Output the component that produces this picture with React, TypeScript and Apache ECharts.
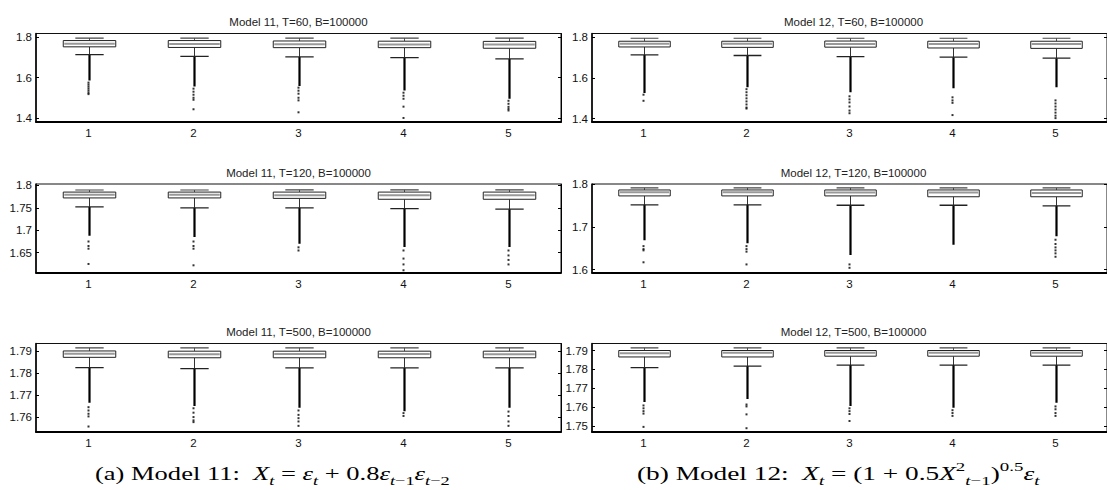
import { useEffect, useRef } from "react";
import * as echarts from "echarts";

// ---------- data ----------
const categories = ["1", "2", "3", "4", "5"];

const titles = [
  "Model 11, T=60, B=100000",
  "Model 11, T=120, B=100000",
  "Model 11, T=500, B=100000",
  "Model 12, T=60, B=100000",
  "Model 12, T=120, B=100000",
  "Model 12, T=500, B=100000",
];

// Model 11, T=60
const a1Hi = [1.795, 1.795, 1.795, 1.795, 1.795];
const a1Q3 = [1.783, 1.783, 1.781, 1.780, 1.779];
const a1Med = [1.767, 1.766, 1.765, 1.764, 1.763];
const a1Q1 = [1.752, 1.749, 1.748, 1.748, 1.745];
const a1Lo = [1.713, 1.705, 1.702, 1.699, 1.692];
const a1Dense = [1.585, 1.556, 1.558, 1.536, 1.495];
const a1Out = [
  [1.575, 1.565, 1.555, 1.545, 1.535, 1.525, 1.518],
  [1.545, 1.53, 1.515, 1.50, 1.49, 1.443],
  [1.55, 1.535, 1.52, 1.50, 1.487, 1.428],
  [1.525, 1.51, 1.495, 1.456, 1.40],
  [1.485, 1.47, 1.455, 1.445, 1.437],
];
const a1Ticks = [1.4, 1.6, 1.8];

// Model 11, T=120
const a2Hi = [1.7896, 1.7896, 1.790, 1.790, 1.790];
const a2Q3 = [1.785, 1.785, 1.785, 1.785, 1.785];
const a2Med = [1.779, 1.779, 1.778, 1.778, 1.778];
const a2Q1 = [1.772, 1.772, 1.771, 1.769, 1.769];
const a2Lo = [1.752, 1.750, 1.750, 1.748, 1.747];
const a2Dense = [1.688, 1.685, 1.670, 1.663, 1.663];
const a2Out = [
  [1.675, 1.665, 1.659, 1.625],
  [1.675, 1.665, 1.659, 1.622],
  [1.662, 1.655],
  [1.655, 1.637, 1.624, 1.611],
  [1.655, 1.644, 1.634, 1.624],
];
const a2Ticks = [1.65, 1.7, 1.75, 1.8];

// Model 11, T=500
const a3Hi = [1.7915, 1.7915, 1.7915, 1.7915, 1.7915];
const a3Q3 = [1.7901, 1.7900, 1.7900, 1.7900, 1.7900];
const a3Med = [1.7888, 1.7886, 1.7887, 1.7887, 1.7886];
const a3Q1 = [1.7872, 1.7870, 1.7870, 1.7870, 1.7870];
const a3Lo = [1.7825, 1.7821, 1.7824, 1.7824, 1.7824];
const a3Dense = [1.7665, 1.7650, 1.7642, 1.7627, 1.7642];
const a3Out = [
  [1.7645, 1.763, 1.7615, 1.7603, 1.7557],
  [1.764, 1.762, 1.760, 1.7585, 1.7577],
  [1.763, 1.761, 1.7595, 1.758, 1.756],
  [1.7618, 1.7605],
  [1.7625, 1.7605, 1.758, 1.756],
];
const a3Ticks = [1.76, 1.77, 1.78, 1.79];

// Model 12, T=60
const b1Hi = [1.795, 1.795, 1.795, 1.795, 1.795];
const b1Q3 = [1.780, 1.780, 1.781, 1.780, 1.780];
const b1Med = [1.768, 1.768, 1.767, 1.766, 1.766];
const b1Q1 = [1.752, 1.750, 1.751, 1.747, 1.745];
const b1Lo = [1.713, 1.710, 1.705, 1.702, 1.697];
const b1Dense = [1.526, 1.555, 1.530, 1.550, 1.555];
const b1Out = [
  [1.518, 1.488],
  [1.545, 1.53, 1.515, 1.50, 1.485, 1.47, 1.455, 1.45],
  [1.51, 1.495, 1.48, 1.46, 1.44, 1.427],
  [1.505, 1.49, 1.478, 1.418],
  [1.49, 1.475, 1.46, 1.445, 1.43, 1.415, 1.403],
];
const b1Ticks = [1.4, 1.6, 1.8];

// Model 12, T=120
const b2Hi = [1.792, 1.792, 1.792, 1.792, 1.792];
const b2Q3 = [1.787, 1.787, 1.787, 1.787, 1.787];
const b2Med = [1.7815, 1.7815, 1.781, 1.781, 1.780];
const b2Q1 = [1.773, 1.773, 1.773, 1.771, 1.771];
const b2Lo = [1.752, 1.752, 1.751, 1.751, 1.7497];
const b2Dense = [1.669, 1.662, 1.634, 1.658, 1.678];
const b2Out = [
  [1.655, 1.648, 1.645, 1.617],
  [1.655, 1.648, 1.642, 1.612],
  [1.612, 1.604],
  [],
  [1.670, 1.66, 1.652, 1.645, 1.638, 1.630],
];
const b2Ticks = [1.6, 1.7, 1.8];

// Model 12, T=500
const b3Hi = [1.7914, 1.7914, 1.7914, 1.7914, 1.7914];
const b3Q3 = [1.7900, 1.7900, 1.7900, 1.7900, 1.7900];
const b3Med = [1.7886, 1.7888, 1.7888, 1.7888, 1.7888];
const b3Q1 = [1.7866, 1.7866, 1.7870, 1.7870, 1.7870];
const b3Lo = [1.7810, 1.7818, 1.7823, 1.7823, 1.7823];
const b3Dense = [1.7628, 1.7644, 1.7607, 1.7598, 1.7625];
const b3Out = [
  [1.761, 1.7595, 1.758, 1.7567, 1.7497],
  [1.7615, 1.7605, 1.7563, 1.749],
  [1.7595, 1.758, 1.7565, 1.7528],
  [1.7585, 1.757, 1.7555],
  [1.7605, 1.759, 1.757, 1.7555],
];
const b3Ticks = [1.75, 1.76, 1.77, 1.78, 1.79];

// axis ranges [min, max]
const yRanges = [
  [1.38, 1.818],
  [1.606, 1.803],
  [1.7532, 1.7935],
  [1.384, 1.818],
  [1.593, 1.801],
  [1.747, 1.7937],
];

const panels = [
  { hi: a1Hi, q3: a1Q3, med: a1Med, q1: a1Q1, lo: a1Lo, dense: a1Dense, out: a1Out, ticks: a1Ticks },
  { hi: a2Hi, q3: a2Q3, med: a2Med, q1: a2Q1, lo: a2Lo, dense: a2Dense, out: a2Out, ticks: a2Ticks },
  { hi: a3Hi, q3: a3Q3, med: a3Med, q1: a3Q1, lo: a3Lo, dense: a3Dense, out: a3Out, ticks: a3Ticks },
  { hi: b1Hi, q3: b1Q3, med: b1Med, q1: b1Q1, lo: b1Lo, dense: b1Dense, out: b1Out, ticks: b1Ticks },
  { hi: b2Hi, q3: b2Q3, med: b2Med, q1: b2Q1, lo: b2Lo, dense: b2Dense, out: b2Out, ticks: b2Ticks },
  { hi: b3Hi, q3: b3Q3, med: b3Med, q1: b3Q1, lo: b3Lo, dense: b3Dense, out: b3Out, ticks: b3Ticks },
];

// ---------- layout ----------
const colLeft = [36, 592];
const colWidth = [525, 523];
const rowTop = [33.5, 184, 343.5];
const rowHeight = 88.5;
const SANS = "'Liberation Sans', Arial, Helvetica, sans-serif";
const SERIF = "'Liberation Serif', 'Times New Roman', serif";

function buildOption() {
  const grid: any[] = [];
  const xAxis: any[] = [];
  const yAxis: any[] = [];
  const series: any[] = [];
  const graphic: any[] = [];

  panels.forEach((p, k) => {
    const col = k < 3 ? 0 : 1;
    const row = k % 3;
    const left = colLeft[col];
    const top = rowTop[row];
    grid.push({
      left,
      top,
      width: colWidth[col],
      height: rowHeight,
      show: true,
      borderColor: "#111",
      borderWidth: 1,
      backgroundColor: "#fff",
      containLabel: false,
    });
    xAxis.push({
      type: "category",
      gridIndex: k,
      data: categories,
      boundaryGap: true,
      axisTick: { show: false },
      axisLine: { show: true, lineStyle: { color: "#000", width: 2 } },
      axisLabel: { fontSize: 11.5, color: "#111", fontFamily: SANS, margin: 5 },
      splitLine: { show: false },
    });
    const [mn, mx] = yRanges[k];
    const yCommon = {
      type: "value",
      gridIndex: k,
      min: mn,
      max: mx,
      splitLine: { show: false },
      axisTick: {
        show: true,
        inside: true,
        length: 3,
        customValues: p.ticks,
        lineStyle: { color: "#000", width: 1 },
      },
    };
    yAxis.push({
      ...yCommon,
      position: "left",
      axisLine: { show: true, lineStyle: { color: "#000", width: 1.5 } },
      axisLabel: {
        show: true,
        fontSize: 11.5,
        color: "#111",
        fontFamily: SANS,
        margin: 4,
        customValues: p.ticks,
        formatter: (v: number) => String(parseFloat(v.toFixed(4))),
      },
    });
    yAxis.push({
      ...yCommon,
      position: "right",
      axisLine: { show: true, lineStyle: { color: "#000", width: 1 } },
      axisLabel: { show: false },
    });

    const boxData = categories.map((_, i) => [i, p.lo[i], p.q1[i], p.med[i], p.q3[i], p.hi[i], p.dense[i]]);
    series.push({
      type: "custom",
      xAxisIndex: k,
      yAxisIndex: 2 * k,
      data: boxData,
      clip: true,
      renderItem: (params: any, api: any) => {
        const xi = api.value(0);
        const pLo = api.coord([xi, api.value(1)]);
        const pQ1 = api.coord([xi, api.value(2)]);
        const pMed = api.coord([xi, api.value(3)]);
        const pQ3 = api.coord([xi, api.value(4)]);
        const pHi = api.coord([xi, api.value(5)]);
        const pDense = api.coord([xi, api.value(6)]);
        const band = api.size([1, 0])[0];
        const bw = band * 0.25;
        const cw = band * 0.135;
        const cx = Math.round(pHi[0]) + 0.5;
        return {
          type: "group",
          children: [
            {
              type: "line",
              shape: { x1: cx, y1: pQ3[1], x2: cx, y2: pHi[1] },
              style: { stroke: "#555", lineWidth: 1 },
            },
            {
              type: "line",
              shape: { x1: cx, y1: pQ1[1], x2: cx, y2: pLo[1] },
              style: { stroke: "#333", lineWidth: 1 },
            },
            {
              type: "line",
              shape: { x1: cx, y1: pLo[1], x2: cx, y2: pDense[1] },
              style: { stroke: "#000", lineWidth: 2.2 },
            },
            {
              type: "line",
              shape: { x1: cx - cw, y1: pHi[1], x2: cx + cw, y2: pHi[1] },
              style: { stroke: "#444", lineWidth: 1.1 },
            },
            {
              type: "line",
              shape: { x1: cx - cw, y1: pLo[1], x2: cx + cw, y2: pLo[1] },
              style: { stroke: "#222", lineWidth: 1.3 },
            },
            {
              type: "rect",
              shape: { x: cx - bw, y: pQ3[1], width: 2 * bw, height: pQ1[1] - pQ3[1] },
              style: { fill: "#fff", stroke: "#222", lineWidth: 1 },
            },
            {
              type: "line",
              shape: { x1: cx - bw + 1, y1: pMed[1], x2: cx + bw - 1, y2: pMed[1] },
              style: { stroke: "#999", lineWidth: 2 },
            },
          ],
        };
      },
    });

    const outData: number[][] = [];
    p.out.forEach((vals, i) => vals.forEach((v) => outData.push([i, v])));
    series.push({
      type: "scatter",
      xAxisIndex: k,
      yAxisIndex: 2 * k,
      data: outData,
      symbol: "rect",
      symbolSize: 2,
      itemStyle: { color: "#000" },
      silent: true,
    });

    graphic.push({
      type: "text",
      x: left + colWidth[col] / 2,
      y: top - 11.5,
      style: {
        text: titles[k],
        fill: "#222",
        font: `11.5px ${SANS}`,
        align: "center",
        verticalAlign: "middle",
      },
    });
  });

  const rich = {
    n: { fontFamily: SERIF, fontSize: 19.5, lineHeight: 28, verticalAlign: "middle", color: "#000" },
    i: { fontFamily: SERIF, fontSize: 19.5, fontStyle: "italic", lineHeight: 28, verticalAlign: "middle", color: "#000" },
    s: { fontFamily: SERIF, fontSize: 13.5, fontStyle: "italic", lineHeight: 13, verticalAlign: "bottom", color: "#000" },
    sn: { fontFamily: SERIF, fontSize: 13.5, lineHeight: 13, verticalAlign: "bottom", color: "#000" },
    sup: { fontFamily: SERIF, fontSize: 13.5, lineHeight: 13, verticalAlign: "top", color: "#000" },
  };
  graphic.push({
    type: "text",
    x: 95,
    y: 473,
    scaleX: 1.36,
    style: {
      text: "{n|(a) Model 11:  }{i|X}{s|t}{n| = }{i|ε}{s|t}{n| + 0.8}{i|ε}{s|t}{sn|−1}{i|ε}{s|t}{sn|−2}",
      rich,
      align: "left",
      verticalAlign: "middle",
    },
  });
  graphic.push({
    type: "text",
    x: 637,
    y: 473,
    scaleX: 1.4,
    style: {
      text: "{n|(b) Model 12:  }{i|X}{s|t}{n| = (1 + 0.5}{i|X}{sup|2}{s|t}{sn|−1}{n|)}{sup|0.5}{i|ε}{s|t}",
      rich,
      align: "left",
      verticalAlign: "middle",
    },
  });

  return {
    animation: false,
    backgroundColor: "#fff",
    grid,
    xAxis,
    yAxis,
    series,
    graphic,
  };
}

export default function App() {
  const ref = useRef<HTMLDivElement>(null);
  useEffect(() => {
    if (!ref.current) return;
    const chart = echarts.init(ref.current, undefined, { renderer: "svg" });
    chart.setOption(buildOption() as any);
    return () => chart.dispose();
  }, []);
  return (
    <div
      ref={ref}
      style={{ position: "absolute", left: 0, top: 0, width: 1107, height: 490, background: "#fff" }}
    />
  );
}
